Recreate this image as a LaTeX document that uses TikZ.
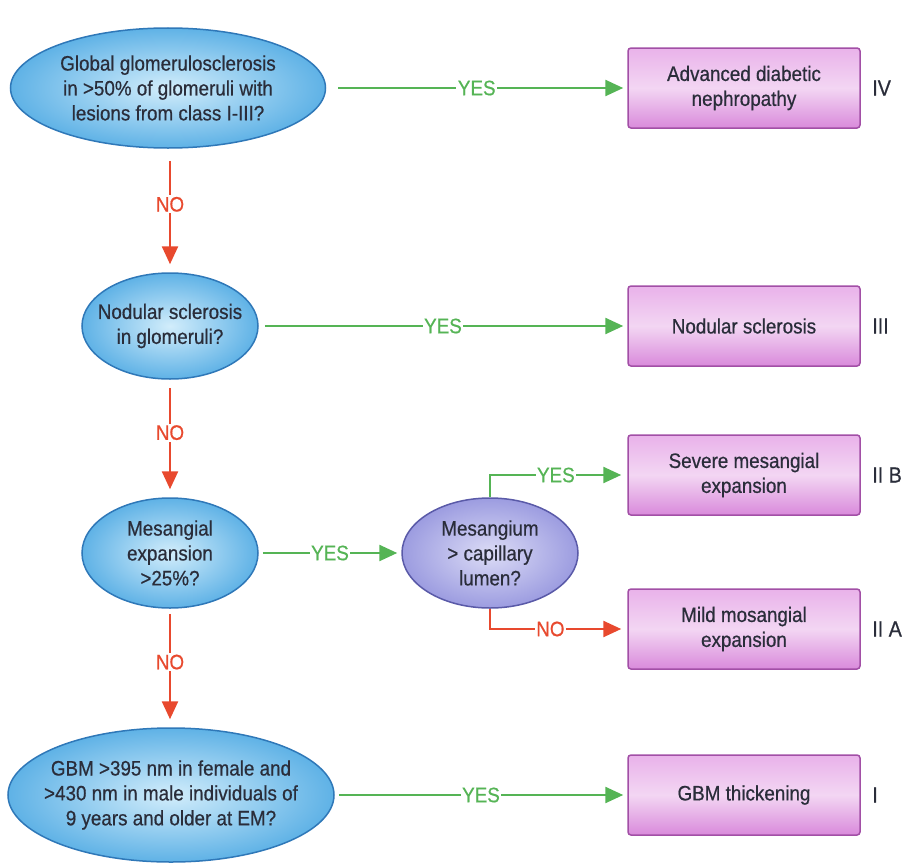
\documentclass[tikz,border=0pt]{standalone}
\usepackage{fontspec}
\setmainfont{Liberation Sans}[FakeStretch=0.9, FakeBold=0.6]
\usetikzlibrary{shapes.geometric}
\usetikzlibrary{arrows.meta}
\usetikzlibrary{positioning}

\definecolor{qinner}{HTML}{D2EDFB}
\definecolor{qouter}{HTML}{5FB2E6}
\definecolor{qedge}{HTML}{2F78B8}
\definecolor{minner}{HTML}{DCDCF6}
\definecolor{mouter}{HTML}{9C9CE0}
\definecolor{medge}{HTML}{5A5AA8}
\definecolor{btop}{HTML}{E9B2EA}
\definecolor{bmid}{HTML}{F3D6F3}
\definecolor{bbot}{HTML}{D98ADB}
\definecolor{bedge}{HTML}{A24FA6}
\definecolor{yescol}{HTML}{55B455}
\definecolor{nocol}{HTML}{E8492E}
\definecolor{txt}{HTML}{2A2D3A}

\begin{document}
\begin{tikzpicture}[x = 1bp, y = -1bp,
  font = \fontsize{21}{25}\selectfont,
  question/.style = {ellipse, draw = qedge, line width = 1.5bp,
    inner xsep = -20bp, inner ysep = -6bp,
    inner color = qinner, outer color = qouter, align = center, text = txt},
  subquestion/.style = {question, draw = medge, inner color = minner,
    outer color = mouter},
  outcome/.style = {rectangle, rounded corners = 3bp, draw = bedge,
    line width = 1.5bp, minimum width = 232bp, minimum height = 80bp,
    top color = btop, bottom color = bbot, middle color = bmid,
    align = center, text = txt},
  grade/.style = {text = txt, font = \fontsize{22}{25}\selectfont},
  yes/.style = {draw = yescol, line width = 2.5bp,
    -{Triangle[length = 18bp, width = 16bp]}},
  no/.style = {draw = nocol, line width = 2.5bp,
    -{Triangle[length = 18bp, width = 16bp]}},
  tag/.style = {fill = white, inner sep = 1.5bp}]

  \useasboundingbox (0, 0) rectangle (904, 864);

  \node[question, minimum width = 315bp, minimum height = 120bp] (glob)
    at (168, 88) {Global glomerulosclerosis\\in >50\% of glomeruli with\\lesions from class I-III?};
  \node[question, minimum width = 176bp, minimum height = 106bp] (nod)
    at (170, 326) {Nodular sclerosis\\in glomeruli?};
  \node[question, minimum width = 176bp, minimum height = 110bp] (mes)
    at (170, 553) {Mesangial\\expansion\\>25\%?};
  \node[question, minimum width = 326bp, minimum height = 134bp] (gbm)
    at (171, 795) {GBM >395 nm in female and\\>430 nm in male individuals of\\9 years and older at EM?};
  \node[subquestion, minimum width = 176bp, minimum height = 110bp] (lum)
    at (490, 553) {Mesangium\\> capillary\\lumen?};

  \node[outcome] (adv) at (744, 88) {Advanced diabetic\\nephropathy};
  \node[outcome] (nodscl) at (744, 326) {Nodular sclerosis};
  \node[outcome] (sev) at (744, 475) {Severe mesangial\\expansion};
  \node[outcome] (mild) at (744, 629) {Mild mosangial\\expansion};
  \node[outcome] (thick) at (744, 795) {GBM thickening};

  \node[grade, right = 8bp of adv] (gIV) {IV};
  \node[grade, right = 8bp of nodscl] (gIII) {III};
  \node[grade, right = 8bp of sev] (gIIB) {II B};
  \node[grade, right = 8bp of mild] (gIIA) {II A};
  \node[grade, right = 8bp of thick] (gI) {I};

  \draw[yes, shorten < = 12bp, shorten > = 4bp] (glob) --
    node[tag, text = yescol] {YES} (adv);
  \draw[yes, shorten < = 6bp, shorten > = 4bp] (nod) --
    node[tag, text = yescol] {YES} (nodscl);
  \draw[yes, shorten < = 4bp, shorten > = 4bp] (mes) --
    node[tag, text = yescol] {YES} (lum);
  \draw[yes, shorten > = 6bp] (lum.north) |-
    node[tag, text = yescol, pos = 0.74] {YES} (sev.west);
  \draw[no, shorten > = 6bp] (lum.south) |-
    node[tag, text = nocol, pos = 0.72] {NO} (mild.west);
  \draw[yes, shorten < = 4bp, shorten > = 4bp] (gbm) --
    node[tag, text = yescol] {YES} (thick);

  \draw[no, shorten < = 12bp, shorten > = 8bp] (glob.south -| nod) --
    node[tag, text = nocol, pos = 0.45] {NO} (nod);
  \draw[no, shorten < = 8bp, shorten > = 8bp] (nod) --
    node[tag, text = nocol, pos = 0.45] {NO} (mes);
  \draw[no, shorten < = 5bp, shorten > = 8bp] (mes) --
    node[tag, text = nocol, pos = 0.45] {NO} (gbm.north -| mes);
\end{tikzpicture}
\end{document}
